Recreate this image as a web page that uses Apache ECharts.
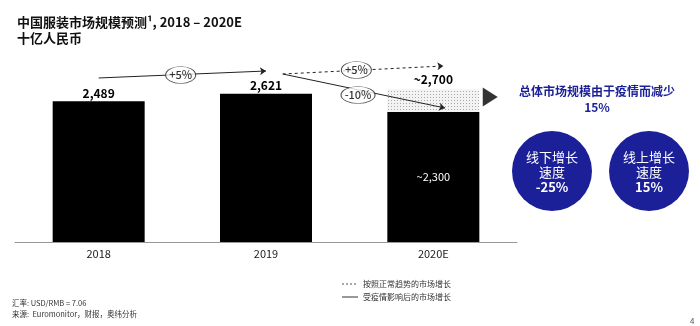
<!DOCTYPE html>
<html>
<head>
<meta charset="utf-8">
<script src="https://cdn.jsdelivr.net/npm/echarts@6/dist/echarts.min.js"></script>
<style>
  html, body { margin: 0; padding: 0; background: #fff; }
  #chart { width: 700px; height: 326px; }
</style>
</head>
<body>
<div id="chart"></div>
<script>
// Market size, RMB billions
const categories = ['2018', '2019', '2020E'];
const actualValues = [2489, 2621, 2300];
const estimated = [false, false, true];
const normalTrend2020 = 2700;

// Growth annotations
const growthLabels = ['+5%', '+5%', '-10%'];
const offlineGrowth = '-25%';
const onlineGrowth = '15%';
const totalDrop = '15%';

const FONT = '"Noto Sans CJK SC", "Noto Sans", sans-serif';
const BLUE = '#1b1f98';

// stipple fill for the gap between normal trend and impacted value
function stipple() {
  const c = document.createElement('canvas');
  c.width = 3; c.height = 3;
  const g = c.getContext('2d');
  g.fillStyle = '#f3f3f3';
  g.fillRect(0, 0, 3, 3);
  g.fillStyle = '#a8a8a8';
  g.fillRect(1, 1, 1, 1);
  return c;
}

const fmt = (v, est) => (est ? '~' : '') + v.toLocaleString('en-US');

const gap = categories.map((c, i) => (i === 2 ? normalTrend2020 - actualValues[i] : null));

// annotation anchors in (category index, value) space
const arrowLines = [
  { from: [0, 2900], to: [1, 3023], dashed: false },
  { from: [1.1, 2970], to: [2.06, 3112], dashed: true },
  { from: [1.1, 2970], to: [2.07, 2369], dashed: false }
];
const bubbleAnchors = [[0.49, 2953], [1.54, 3041], [1.55, 2600]];
const markerAnchor = [2.34, 2564];

const chart = echarts.init(document.getElementById('chart'), null, { renderer: 'canvas' });

const circleRich = {
  a: { fill: '#fff', fontSize: 13, fontFamily: FONT, lineHeight: 15 },
  b: { fill: '#fff', fontSize: 13, fontWeight: 'bold', fontFamily: FONT, lineHeight: 15 }
};

const option = {
  animation: false,
  textStyle: { fontFamily: FONT },
  title: {
    left: 12, top: 9,
    text: '中国服装市场规模预测¹, 2018 – 2020E\n十亿人民币',
    textStyle: { fontFamily: FONT, fontSize: 13, fontWeight: 'bold', color: '#111', lineHeight: 16 }
  },
  grid: { left: 15, right: 183, top: 61, bottom: 84 },
  xAxis: [
    {
      type: 'category', data: categories,
      axisLine: { lineStyle: { color: '#999', width: 1 } },
      axisTick: { show: false },
      axisLabel: { color: '#222', fontSize: 11, margin: 6, fontFamily: FONT }
    },
    { type: 'value', min: -0.5, max: 2.5, show: false }
  ],
  yAxis: { type: 'value', min: 0, max: 3200, show: false },
  series: [
    {
      type: 'bar', stack: 'total', barWidth: 92,
      itemStyle: { color: '#000' },
      data: actualValues.map((v, i) => ({
        value: v,
        label: estimated[i]
          ? { show: true, position: 'inside', color: '#fff', fontSize: 11, fontWeight: 'normal', formatter: () => fmt(v, true) }
          : { show: true, position: 'top', distance: 2, color: '#000', fontSize: 12, fontWeight: 'bold', formatter: () => fmt(v, false) }
      }))
    },
    {
      type: 'bar', stack: 'total', barWidth: 92,
      itemStyle: { color: { image: stipple(), repeat: 'repeat' } },
      label: {
        show: true, position: 'top', distance: 4, color: '#000', fontSize: 12, fontWeight: 'bold',
        formatter: () => fmt(normalTrend2020, true)
      },
      data: gap
    },
    {
      // growth arrows
      type: 'line', xAxisIndex: 1, data: [], silent: true,
      markLine: {
        silent: true, symbol: ['none', 'arrow'], symbolSize: 6,
        label: { show: false },
        data: arrowLines.map(a => [
          { coord: a.from, lineStyle: { type: a.dashed ? [3, 3] : 'solid', color: '#222', width: 1 } },
          { coord: a.to }
        ])
      },
      z: 3
    },
    {
      // growth-rate bubbles
      type: 'scatter', xAxisIndex: 1, z: 5, silent: true,
      symbol: 'circle',
      symbolSize: (v, p) => (p.dataIndex === 2 ? [34, 17] : [30, 17]),
      itemStyle: { color: '#fff', borderColor: '#222', borderWidth: 0.8 },
      label: {
        show: true, position: 'inside', color: '#000', fontSize: 11, fontWeight: 500,
        formatter: p => growthLabels[p.dataIndex]
      },
      data: bubbleAnchors
    },
    {
      // pointer to the summary note
      type: 'scatter', xAxisIndex: 1, z: 5, silent: true,
      symbol: 'triangle', symbolSize: [19, 15], symbolRotate: -90,
      itemStyle: { color: '#000' },
      data: [markerAnchor]
    }
  ],
  graphic: [
    {
      type: 'text', x: 597, y: 99, z: 10,
      style: {
        text: '总体市场规模由于疫情而减少\n' + totalDrop,
        fill: BLUE, font: 'bold 12px ' + FONT, align: 'center', verticalAlign: 'middle', lineHeight: 16
      }
    },
    { type: 'circle', shape: { cx: 552, cy: 171, r: 40 }, style: { fill: BLUE } },
    { type: 'circle', shape: { cx: 649, cy: 171, r: 40 }, style: { fill: BLUE } },
    {
      type: 'text', x: 552, y: 172, z: 10,
      style: {
        text: '{a|线下增长}\n{a|速度}\n{b|' + offlineGrowth + '}',
        align: 'center', verticalAlign: 'middle', rich: circleRich
      }
    },
    {
      type: 'text', x: 649, y: 172, z: 10,
      style: {
        text: '{a|线上增长}\n{a|速度}\n{b|' + onlineGrowth + '}',
        align: 'center', verticalAlign: 'middle', rich: circleRich
      }
    },
    // line-style key
    { type: 'line', shape: { x1: 342, y1: 284, x2: 358, y2: 284 }, style: { stroke: '#555', lineWidth: 1, lineDash: [2, 2] } },
    { type: 'text', x: 363, y: 284, style: { text: '按照正常趋势的市场增长', fill: '#333', font: '8px ' + FONT, verticalAlign: 'middle' } },
    { type: 'line', shape: { x1: 342, y1: 297, x2: 358, y2: 297 }, style: { stroke: '#333', lineWidth: 1 } },
    { type: 'text', x: 363, y: 297, style: { text: '受疫情影响后的市场增长', fill: '#333', font: '8px ' + FONT, verticalAlign: 'middle' } },
    // notes
    { type: 'text', x: 12, y: 303, style: { text: '汇率: USD/RMB = 7.06', fill: '#333', font: '7.5px ' + FONT, verticalAlign: 'middle' } },
    { type: 'text', x: 12, y: 314, style: { text: '来源:  Euromonitor，财报，奥纬分析', fill: '#333', font: '7.5px ' + FONT, verticalAlign: 'middle' } },
    { type: 'text', x: 690, y: 321, style: { text: '4', fill: '#555', font: '8px ' + FONT, verticalAlign: 'middle' } }
  ]
};

chart.setOption(option);
</script>
</body>
</html>
